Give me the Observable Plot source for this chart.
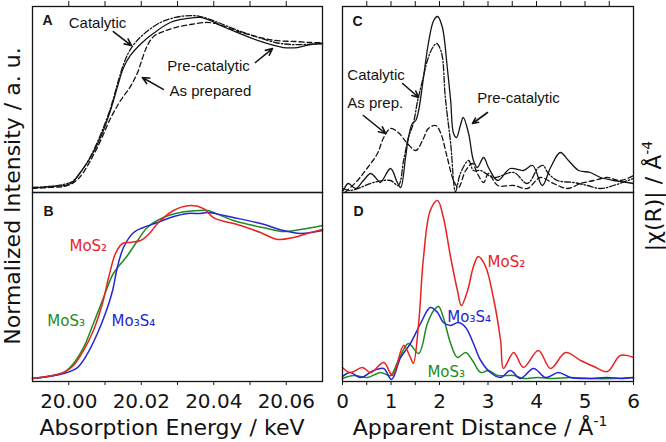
<!DOCTYPE html>
<html><head><meta charset="utf-8">
<script src="https://cdn.jsdelivr.net/npm/d3@7"></script>
<script src="https://cdn.jsdelivr.net/npm/@observablehq/plot@0.6"></script>
<style>
body{margin:0;background:#fff;}
#wrap{position:relative;width:666px;height:442px;overflow:hidden;font-family:"DejaVu Sans",sans-serif;color:#111;background:#fff;}
#wrap svg{position:absolute;}
.title{position:absolute;font-size:22px;line-height:22px;white-space:nowrap;color:#111;}
.sup{font-size:14px;position:relative;top:-9px;}
</style></head><body><div id="wrap"></div>
<script>
// ---------- Panel A: XANES, in situ (keV, normalized intensity) ----------
const preCatE = [19.990,19.995,19.999,20.001,20.003,20.006,20.009,20.0115,20.0137,20.015,20.017,20.020,20.0233,20.028,20.0328,20.0363,20.039,20.0419,20.0466,20.0529,20.0592,20.0631,20.0667,20.070];
const preCatI = [0.000,0.014,0.021,0.042,0.104,0.215,0.368,0.542,0.729,0.833,0.924,1.007,1.076,1.153,1.181,1.188,1.167,1.132,1.083,1.021,0.979,0.979,1.000,1.007];
const catE = [19.990,19.995,19.9986,20.001,20.0032,20.006,20.0088,20.0115,20.0137,20.0151,20.0165,20.0184,20.0212,20.0253,20.0294,20.0336,20.0363,20.0405,20.046,20.0515,20.057,20.0612,20.0653,20.070];
const catI = [0.007,0.014,0.028,0.049,0.111,0.222,0.375,0.556,0.750,0.861,0.944,1.014,1.083,1.153,1.188,1.201,1.194,1.160,1.104,1.056,1.014,1.000,1.000,1.007];
const asPrepE = [19.990,19.995,19.9986,20.001,20.0032,20.006,20.0088,20.0115,20.0143,20.017,20.019,20.0203,20.0217,20.0234,20.0261,20.0294,20.0336,20.0377,20.0405,20.046,20.0515,20.057,20.0625,20.0667,20.070];
const asPrepI = [0.000,0.007,0.014,0.035,0.083,0.194,0.333,0.486,0.611,0.708,0.806,0.903,0.993,1.056,1.090,1.118,1.139,1.153,1.146,1.097,1.056,1.028,1.021,1.014,1.014];

// ---------- Panel B: XANES references ----------
const mos2E = [19.990,19.9986,20.0013,20.0041,20.0068,20.0093,20.0110,20.0129,20.0148,20.0170,20.0198,20.0220,20.0245,20.0289,20.0336,20.0372,20.0399,20.0474,20.0529,20.0576,20.0620,20.0667,20.0700];
const mos2I = [0.000,0.040,0.087,0.187,0.320,0.500,0.673,0.833,0.900,0.907,0.920,0.960,1.033,1.120,1.153,1.133,1.073,1.020,0.973,0.927,0.940,0.973,0.993];
const mos3E = [19.990,19.9986,20.0013,20.0041,20.0068,20.0093,20.0123,20.0162,20.0190,20.0217,20.0261,20.0308,20.0363,20.0383,20.0454,20.0548,20.0592,20.0639,20.0700];
const mos3I = [0.000,0.040,0.100,0.207,0.367,0.520,0.700,0.820,0.920,1.007,1.073,1.107,1.120,1.120,1.053,1.000,0.980,0.993,1.020];
const mo3s4E = [19.990,19.9986,20.0024,20.0052,20.0079,20.0101,20.0121,20.0134,20.0151,20.0179,20.0206,20.0245,20.0281,20.0328,20.0363,20.0383,20.0454,20.0529,20.0592,20.0639,20.0700];
const mo3s4I = [0.000,0.033,0.073,0.167,0.300,0.433,0.587,0.740,0.873,0.973,1.007,1.040,1.073,1.100,1.100,1.107,1.073,1.033,0.987,0.967,0.987];

// ---------- Panel C: EXAFS |chi(R)|, in situ ----------
const preC_R = [0.02,0.12,0.27,0.43,0.58,0.68,0.78,0.99,1.13,1.20,1.30,1.36,1.44,1.51,1.57,1.67,1.77,1.88,1.96,2.06,2.16,2.23,2.29,2.35,2.43,2.49,2.60,2.70,2.78,2.91,3.01,3.20,3.46,3.73,3.92,4.12,4.29,4.49,4.66,4.87,5.11,5.32,5.59,5.88,6.00];
const preC_v = [0.02,0.09,0.04,0.12,0.19,0.15,0.10,0.24,0.10,0.05,0.35,0.55,0.69,0.72,0.82,1.15,1.49,1.72,1.76,1.65,1.25,0.92,0.59,0.55,0.67,0.75,0.59,0.32,0.25,0.35,0.25,0.12,0.24,0.22,0.27,0.07,0.25,0.40,0.32,0.22,0.20,0.15,0.12,0.10,0.09];
const catC_R = [0.02,0.16,0.37,0.64,0.99,1.15,1.26,1.36,1.46,1.55,1.65,1.75,1.86,1.94,2.04,2.12,2.23,2.33,2.43,2.60,2.70,2.85,3.11,3.53,3.81,4.04,4.14,4.23,4.43,4.76,5.05,5.32,5.59,5.88,6.00];
const catC_v = [0.04,0.02,0.05,0.10,0.12,0.07,0.32,0.55,0.69,0.92,1.12,1.32,1.45,1.49,1.40,0.95,0.49,0.01,0.19,0.32,0.22,0.22,0.15,0.20,0.09,0.25,0.27,0.20,0.12,0.10,0.07,0.04,0.07,0.12,0.14];
const asPrepC_R = [0.05,0.31,0.52,0.72,0.85,0.99,1.15,1.34,1.51,1.65,1.77,1.92,2.02,2.16,2.29,2.39,2.54,2.68,2.78,2.91,3.01,3.20,3.53,3.81,4.08,4.35,4.64,4.91,5.18,5.46,5.73,6.00];
const asPrepC_v = [0.00,0.12,0.25,0.39,0.55,0.64,0.60,0.49,0.42,0.52,0.64,0.67,0.60,0.35,0.12,0.05,0.22,0.29,0.19,0.10,0.19,0.07,0.07,0.04,0.15,0.09,0.04,0.09,0.12,0.15,0.12,0.17];

// ---------- Panel D: EXAFS references ----------
const mos2R = [0.00,0.16,0.41,0.58,0.85,1.03,1.26,1.40,1.46,1.57,1.67,1.81,1.96,2.08,2.23,2.37,2.45,2.58,2.70,2.80,2.95,3.11,3.26,3.32,3.53,3.73,4.04,4.29,4.60,4.91,5.18,5.46,5.73,6.00];
const mos2V = [0.14,0.09,0.14,0.09,0.19,0.06,0.36,0.24,0.18,0.58,1.24,1.71,1.81,1.64,1.24,0.91,0.76,0.91,1.15,1.25,1.15,0.84,0.41,0.13,0.29,0.14,0.31,0.13,0.29,0.21,0.15,0.10,0.26,0.24];
const mo3s4R = [0.00,0.16,0.37,0.64,0.85,1.01,1.20,1.40,1.61,1.81,1.96,2.08,2.23,2.39,2.54,2.70,2.85,3.05,3.26,3.46,3.67,3.94,4.19,4.45,4.70,5.05,5.46,5.73,6.00];
const mo3s4V = [0.05,0.09,0.04,0.11,0.13,0.02,0.24,0.38,0.58,0.74,0.69,0.59,0.56,0.59,0.54,0.38,0.21,0.09,0.04,0.11,0.03,0.13,0.04,0.09,0.04,0.03,0.04,0.03,0.04];
const mos3R = [0.00,0.23,0.52,0.78,0.99,1.15,1.36,1.57,1.75,1.88,1.98,2.08,2.23,2.37,2.54,2.68,2.85,3.01,3.20,3.53,3.73,4.02,4.35,4.70,5.11,5.59,6.00];
const mos3V = [0.03,0.06,0.04,0.09,0.06,0.21,0.38,0.28,0.58,0.71,0.75,0.64,0.38,0.24,0.29,0.21,0.09,0.11,0.06,0.06,0.03,0.04,0.03,0.04,0.03,0.03,0.04];

// ---------- ticks ----------
const energyMajor = [20.00,20.02,20.04,20.06];
const energyMinor = [20.01,20.03,20.05];
const energyTop = [20.00,20.01,20.02,20.03,20.04,20.05,20.06];
const distMajor = [0,1,2,3,4,5,6];
const distMinor = [0.5,1.5,2.5,3.5,4.5,5.5];
const distTop = [0.5,1,1.5,2,2.5,3,3.5,4,4.5,5,5.5];

// ---------- annotations (data coordinates) ----------
const labelsA = [{t:"Catalytic",x:20.0000,y:1.118},{t:"Pre-catalytic",x:20.0272,y:0.819},{t:"As prepared",x:20.0278,y:0.639}];
const arrowsA = [{x1:20.0123,y1:1.090,x2:20.0173,y2:0.993},{x1:20.0515,y1:0.875,x2:20.0562,y2:0.972},{x1:20.0261,y1:0.688,x2:20.0203,y2:0.771}];
const labelsB = [{t:"MoS₂",x:20.0002,y:0.847,c:"red"},{t:"MoS₃",x:19.9941,y:0.353,c:"green"},{t:"Mo₃S₄",x:20.0118,y:0.353,c:"blue"}];
const labelsC = [{t:"Catalytic",x:0.10,y:1.13},{t:"As prep.",x:0.10,y:0.85},{t:"Pre-catalytic",x:2.78,y:0.90}];
const arrowsC = [{x1:1.24,y1:1.09,x2:1.57,y2:0.95},{x1:0.43,y1:0.77,x2:0.89,y2:0.59},{x1:2.99,y1:0.80,x2:2.68,y2:0.69}];
const labelsD = [{t:"MoS₂",x:2.99,y:1.15,c:"red"},{t:"Mo₃S₄",x:2.16,y:0.60,c:"blue"},{t:"MoS₃",x:1.75,y:0.05,c:"green"}];

const colors = {red:"#e8231f", green:"#1f8b22", blue:"#2525d6"};
const ink = "#141414";
const rows = (xs, ys) => xs.map((x, i) => ({x, y: ys[i]}));
const wrap = document.getElementById("wrap");
const baseStyle = {background:"transparent", overflow:"visible", fontFamily:"'DejaVu Sans', sans-serif", fontSize:"20px", color:ink};

function place(svg, left, top) { svg.style.left = left + "px"; svg.style.top = top + "px"; wrap.appendChild(svg); }
const solid = (d) => Plot.line(d, {x:"x", y:"y", stroke:ink, strokeWidth:1.3, curve:"catmull-rom"});
const dashDot = (d) => Plot.line(d, {x:"x", y:"y", stroke:ink, strokeWidth:1.3, strokeDasharray:"6,2,1.5,2", curve:"catmull-rom"});
const dashed = (d) => Plot.line(d, {x:"x", y:"y", stroke:ink, strokeWidth:1.3, strokeDasharray:"5,3", curve:"catmull-rom"});
const colored = (d, c) => Plot.line(d, {x:"x", y:"y", stroke:colors[c], strokeWidth:1.5, curve:"catmull-rom"});
const blackLabels = (d) => Plot.text(d, {x:"x", y:"y", text:"t", textAnchor:"start", lineAnchor:"bottom", fontSize:15, fontFamily:"'Liberation Sans', Arial, sans-serif", fill:ink});
const colorLabels = (d) => Plot.text(d, {x:"x", y:"y", text:"t", textAnchor:"start", lineAnchor:"bottom", fontSize:15, fontFamily:"'DejaVu Sans', sans-serif", fill:(r) => colors[r.c]});
const arrows = (d) => Plot.arrow(d, {x1:"x1", y1:"y1", x2:"x2", y2:"y2", stroke:ink, strokeWidth:1.6, headLength:7, headAngle:50});
const letter = (s, dx, dy) => Plot.text([s], {frameAnchor:"top-left", textAnchor:"start", lineAnchor:"bottom", dx, dy, fontSize:14, fontWeight:"bold", fontFamily:"'Liberation Sans', Arial, sans-serif", fill:ink});
const frame = () => Plot.frame({stroke:ink, strokeWidth:1.3});
const hidden = () => "";

// Panel A
place(Plot.plot({
  width:330, height:197, marginLeft:32, marginRight:8, marginTop:6, marginBottom:5,
  x:{domain:[19.99,20.07], axis:null}, y:{domain:[-0.028,1.264], axis:null}, style:baseStyle,
  marks:[
    Plot.axisX({anchor:"top", ticks:energyTop, tickSize:6, tickFormat:hidden, label:null, stroke:ink}),
    dashed(rows(asPrepE, asPrepI)),
    dashDot(rows(catE, catI)),
    solid(rows(preCatE, preCatI)),
    arrows(arrowsA), blackLabels(labelsA), letter("A", 10, 18), frame()
  ]}), 0, 0);

// Panel B
place(Plot.plot({
  width:330, height:255, marginLeft:32, marginRight:8, marginTop:5, marginBottom:61,
  x:{domain:[19.99,20.07], axis:null}, y:{domain:[-0.02,1.24], axis:null}, style:baseStyle,
  marks:[
    Plot.axisX({anchor:"bottom", ticks:energyMinor, tickSize:4, tickFormat:hidden, label:null, stroke:ink}),
    Plot.axisX({anchor:"bottom", ticks:energyMajor, tickSize:4, tickPadding:8, tickFormat:(d) => d.toFixed(2), label:null, stroke:ink, fill:ink}),
    colored(rows(mos3E, mos3I), "green"),
    colored(rows(mo3s4E, mo3s4I), "blue"),
    colored(rows(mos2E, mos2I), "red"),
    colorLabels(labelsB), letter("B", 11, 23), frame()
  ]}), 0, 187);

// Panel C
place(Plot.plot({
  width:336, height:197, marginLeft:12, marginRight:33, marginTop:6, marginBottom:5,
  x:{domain:[0,6], axis:null}, y:{domain:[0,1.86], axis:null}, style:baseStyle,
  marks:[
    Plot.axisX({anchor:"top", ticks:distTop, tickSize:6, tickFormat:hidden, label:null, stroke:ink}),
    dashed(rows(asPrepC_R, asPrepC_v)),
    dashDot(rows(catC_R, catC_v)),
    solid(rows(preC_R, preC_v)),
    arrows(arrowsC), blackLabels(labelsC), letter("C", 10, 19), frame()
  ]}), 330, 0);

// Panel D
place(Plot.plot({
  width:336, height:255, marginLeft:12, marginRight:33, marginTop:5, marginBottom:61,
  x:{domain:[0,6], axis:null}, y:{domain:[0,1.89], axis:null}, style:baseStyle,
  marks:[
    Plot.axisX({anchor:"bottom", ticks:distMinor, tickSize:4, tickFormat:hidden, label:null, stroke:ink}),
    Plot.axisX({anchor:"bottom", ticks:distMajor, tickSize:4, tickPadding:8, tickFormat:(d) => String(d), label:null, stroke:ink, fill:ink}),
    colored(rows(mos3R, mos3V), "green"),
    colored(rows(mo3s4R, mo3s4V), "blue"),
    colored(rows(mos2R, mos2V), "red"),
    colorLabels(labelsD), letter("D", 11, 23), frame()
  ]}), 330, 187);

// Axis titles (HTML text)
function title(html, left, top, transform) {
  const d = document.createElement("div");
  d.className = "title"; d.innerHTML = html;
  d.style.left = left + "px"; d.style.top = top + "px"; d.style.transform = transform;
  wrap.appendChild(d);
}
title("Absorption Energy / keV", 172, 417, "translateX(-50%)");
title("Apparent Distance / Å<span class='sup'>-1</span>", 480, 417, "translateX(-50%)");
title("Normalized Intensity / a. u.", 13, 196, "translate(-50%,-50%) rotate(-90deg)");
title("|χ(R)| / Å<span class='sup'>-4</span>", 655, 196, "translate(-50%,-50%) rotate(-90deg)");
</script></body></html>
